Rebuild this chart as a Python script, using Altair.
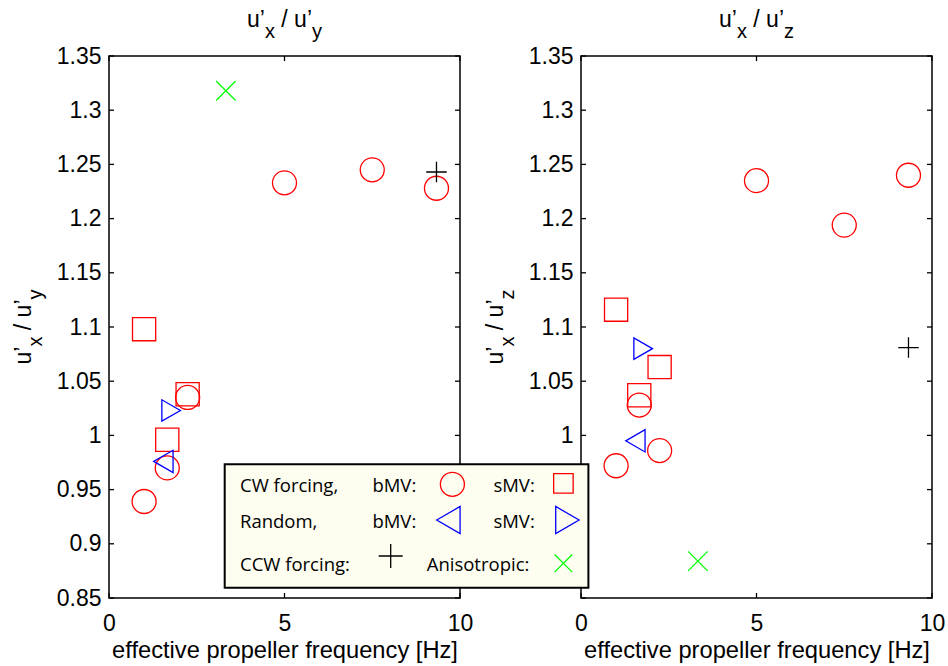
import altair as alt
import pandas as pd

# ---- data -------------------------------------------------------------
series = ["CW bMV", "CW sMV", "Random bMV", "Random sMV", "CCW", "Anisotropic"]

# effective propeller frequency [Hz] per series
cw_b_freq = [1.0, 1.66, 2.24, 5.0, 7.5, 9.33]
cw_s_freq = [1.0, 1.66, 2.24]
rnd_b_freq = [1.55]
rnd_s_freq = [1.77]
ccw_freq = [9.33]
aniso_freq = [3.33]

# u'x / u'y
xy_cw_b = [0.939, 0.970, 1.035, 1.233, 1.245, 1.228]
xy_cw_s = [1.098, 0.996, 1.038]
xy_rnd_b = [0.976]
xy_rnd_s = [1.023]
xy_ccw = [1.243]
xy_aniso = [1.318]

# u'x / u'z
xz_cw_b = [0.972, 1.028, 0.986, 1.235, 1.194, 1.240]
xz_cw_s = [1.116, 1.037, 1.063]
xz_rnd_b = [0.995]
xz_rnd_s = [1.080]
xz_ccw = [1.081]
xz_aniso = [0.884]

x_ticks = [0, 5, 10]
y_ticks = [0.85, 0.9, 0.95, 1.0, 1.05, 1.1, 1.15, 1.2, 1.25, 1.3, 1.35]
# the legend box sits over the lower labels of the right-hand panel
y_labels_right = [1.0, 1.05, 1.1, 1.15, 1.2, 1.25, 1.3, 1.35]

# ---- styles -----------------------------------------------------------
PLUS = "M-1,0L1,0M0,-1L0,1"
CROSS = "M-1,-1L1,1M-1,1L1,-1"
shapes = ["circle", "square", "triangle-left", "triangle-right", PLUS, CROSS]
colors = ["#ff0000", "#ff0000", "#0000ff", "#0000ff", "#000000", "#00ff00"]
sizes = [576, 380, 729, 729, 576, 310]

W, H = 351, 542
FONT = "Liberation Sans"
LEG_FONT = "Open Sans"
FS = 23
SUB_FS = 20
SUB_DROP = 11
STROKE = 1.3

ONE = pd.DataFrame({"k": [0]})
freq_lists = [cw_b_freq, cw_s_freq, rnd_b_freq, rnd_s_freq, ccw_freq, aniso_freq]

# Helvetica/Arial advance widths (em) for the characters used in the labels
ADV = {"u": 0.556, "’": 0.222, "x": 0.5, "y": 0.5, "z": 0.5, "/": 0.278, " ": 0.278}


def width(text, fs):
    return sum(ADV[c] for c in text) * fs


def panel_frame(values):
    rows = []
    for name, xs, ys in zip(series, freq_lists, values):
        for xv, yv in zip(xs, ys):
            rows.append({"series": name, "freq": xv, "ratio": yv})
    return pd.DataFrame(rows)


def rich_text(parts, rotate, anchor_x, anchor_y, centre):
    """Text with subscripts, laid out piece by piece (horizontal or rotated)."""
    total = sum(width(t, SUB_FS if s else FS) for t, s in parts)
    offset = 0.0
    layers = []
    for text, sub in parts:
        fs = SUB_FS if sub else FS
        drop = SUB_DROP if sub else 0
        if text.strip():
            if rotate:
                px, py = anchor_x + drop, centre + total / 2 - offset
            else:
                px, py = centre - total / 2 + offset, anchor_y + drop
            layers.append(
                alt.Chart(ONE)
                .mark_text(text=text, align="left", baseline="alphabetic",
                           font=FONT, fontSize=fs, color="black",
                           angle=270 if rotate else 0)
                .encode(x=alt.value(px), y=alt.value(py))
            )
        offset += width(text, fs)
    return layers


def panel(values, sub_char, y_label_values, legend_layers=()):
    df = panel_frame(values)
    xscale = alt.Scale(domain=[0, 10], nice=False, zero=False)
    yscale = alt.Scale(domain=[0.85, 1.35], nice=False, zero=False)

    x_axis = alt.Axis(values=x_ticks, title="effective propeller frequency [Hz]",
                      ticks=False, tickSize=0, grid=False, domain=False, labelFlush=False,
                      labelFont=FONT, labelFontSize=FS, labelColor="black",
                      labelPadding=14.5, titleFont=FONT, titleFontSize=23.7,
                      titleFontWeight="normal", titleColor="black", titlePadding=3)
    y_axis = alt.Axis(values=y_label_values, title=None, ticks=False, tickSize=0,
                      grid=False, domain=False, labelFlush=False, labelFont=FONT,
                      labelFontSize=FS, labelColor="black", labelPadding=8,
                      labelExpr="format(datum.value, '.2~f')")

    points = alt.Chart(df).mark_point(filled=False, strokeWidth=STROKE, opacity=1).encode(
        x=alt.X("freq:Q", scale=xscale, axis=x_axis),
        y=alt.Y("ratio:Q", scale=yscale, axis=y_axis),
        shape=alt.Shape("series:N", scale=alt.Scale(domain=series, range=shapes), legend=None),
        color=alt.Color("series:N", scale=alt.Scale(domain=series, range=colors), legend=None),
        size=alt.Size("series:O", scale=alt.Scale(domain=series, range=sizes), legend=None),
    )

    # inward tick marks on all four sides
    xt = pd.DataFrame({"v": x_ticks})
    yt = pd.DataFrame({"v": y_ticks})
    tick = dict(color="black", strokeWidth=STROKE)
    xenc = alt.X("v:Q", scale=xscale, axis=x_axis)
    yenc = alt.Y("v:Q", scale=yscale, axis=y_axis)
    ticks = [
        alt.Chart(xt).mark_rule(**tick).encode(x=xenc, y=alt.value(H - 5), y2=alt.value(H)),
        alt.Chart(xt).mark_rule(**tick).encode(x=xenc, y=alt.value(0), y2=alt.value(5)),
        alt.Chart(yt).mark_rule(**tick).encode(y=yenc, x=alt.value(0), x2=alt.value(5)),
        alt.Chart(yt).mark_rule(**tick).encode(y=yenc, x=alt.value(W - 5), x2=alt.value(W)),
    ]

    parts = [("u’", False), ("x", True), (" ", False), ("/", False), (" ", False),
             ("u’", False), (sub_char, True)]
    title = rich_text(parts, False, 0, -29, W / 2)
    ylab = rich_text(parts, True, -78, 0, H / 2)

    return alt.layer(points, *ticks, *title, *ylab, *legend_layers).properties(width=W, height=H)


# ---- legend (drawn in the right-hand panel's frame, spanning both) ------
leg_rows = ["CW forcing,", "bMV:", "sMV:", "Random,", "bMV:", "sMV:", "CCW forcing:", "Anisotropic:"]
leg_text_x = [-341, -208.6, -87.6, -341, -208.6, -87.6, -341, -154.3]
leg_text_y = [435.7, 435.7, 435.7, 471.7, 471.7, 471.7, 515, 515]
leg_sym_x = [-128.6, -17.6, -132.6, -13.6, -190.3, -17.6]
leg_sym_y = [428.3, 427.3, 464, 464, 500, 507.3]

legend = [
    alt.Chart(ONE).mark_rect(fill="#fdfdf0", stroke="black", strokeWidth=2).encode(
        x=alt.value(-356.3), x2=alt.value(7.4), y=alt.value(408.3), y2=alt.value(531.7))
]
for txt, lx, ly in zip(leg_rows, leg_text_x, leg_text_y):
    legend.append(
        alt.Chart(ONE).mark_text(text=txt, align="left", baseline="alphabetic",
                                 font=LEG_FONT, fontSize=18.5, color="black")
        .encode(x=alt.value(lx), y=alt.value(ly)))
for shp, col, sz, sx, sy in zip(shapes, colors, sizes, leg_sym_x, leg_sym_y):
    legend.append(
        alt.Chart(ONE).mark_point(shape=shp, color=col, size=sz, filled=False,
                                  strokeWidth=STROKE, opacity=1)
        .encode(x=alt.value(sx), y=alt.value(sy)))

left = panel([xy_cw_b, xy_cw_s, xy_rnd_b, xy_rnd_s, xy_ccw, xy_aniso], "y", y_ticks)
right = panel([xz_cw_b, xz_cw_s, xz_rnd_b, xz_rnd_s, xz_ccw, xz_aniso], "z",
              y_labels_right, legend)

chart = (
    alt.hconcat(left, right, spacing=121, bounds="flush")
    .properties(padding={"left": 12, "top": 8, "right": 0, "bottom": 0}, background="white")
    .configure_view(stroke="black", strokeWidth=1.5)
)

chart.save("out.html", embed_options={"renderer": "svg", "actions": False})
